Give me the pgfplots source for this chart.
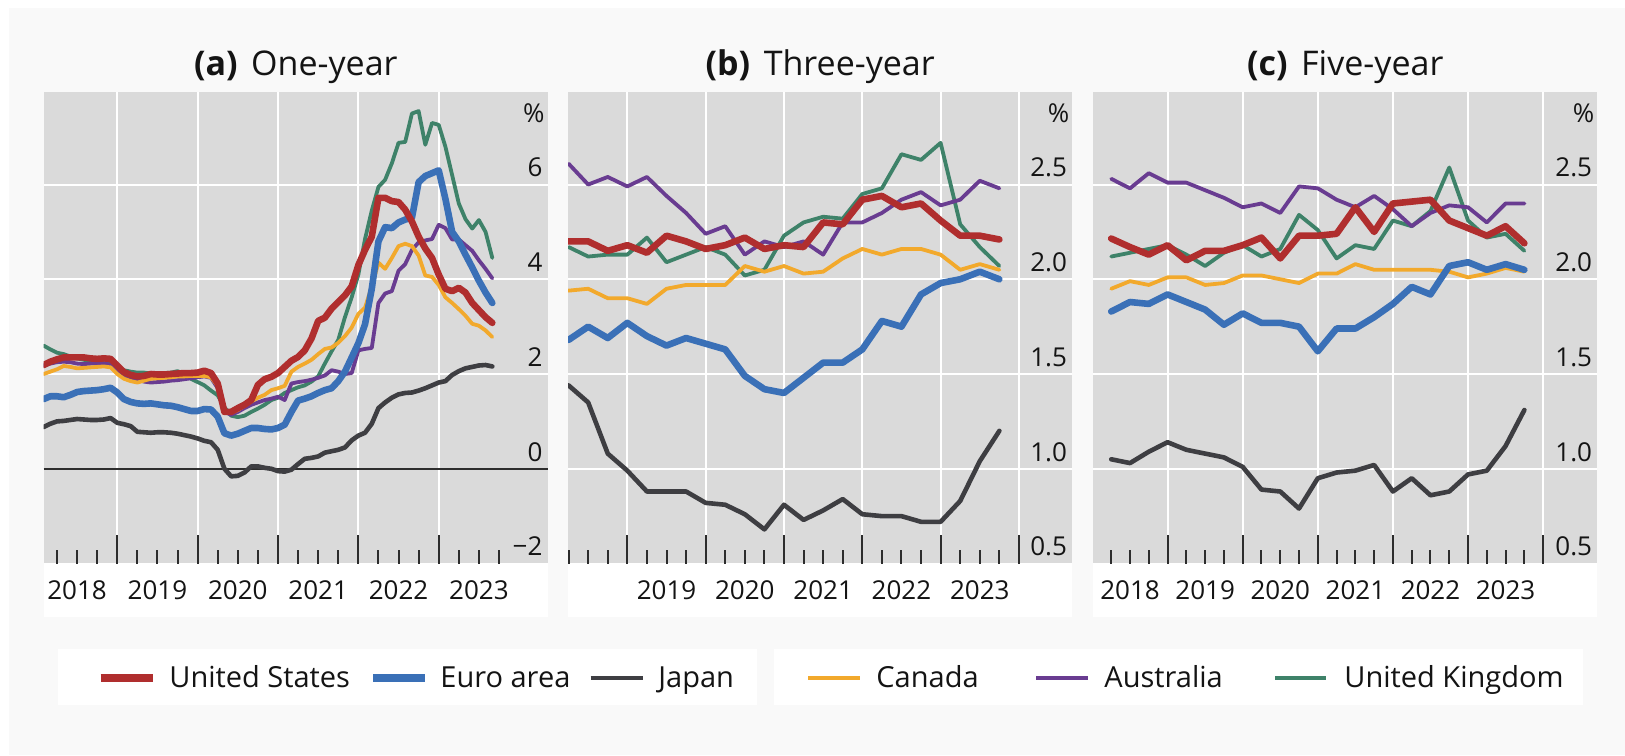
\documentclass[border=0pt]{standalone}
\usepackage{fontspec}
\setmainfont{Open Sans}
\usepackage{pgfplots}
\usepackage{pgfplotstable}
\pgfplotsset{compat=1.18}

\definecolor{usred}{RGB}{176,46,46}
\definecolor{eublue}{RGB}{58,112,183}
\definecolor{jpgray}{RGB}{62,62,66}
\definecolor{caorange}{RGB}{242,169,44}
\definecolor{aupurple}{RGB}{105,60,145}
\definecolor{ukgreen}{RGB}{62,130,105}
\definecolor{plotbg}{RGB}{218,218,218}
\definecolor{figbg}{RGB}{249,249,249}
\definecolor{tickc}{RGB}{45,45,45}
\definecolor{txtc}{RGB}{20,20,20}

% One-year (monthly)
\pgfplotstableread{
t us eu jp ca au uk
2018.083 2.19 1.47 0.88 2.00 2.18 2.60
2018.167 2.26 1.53 0.95 2.05 2.22 2.52
2018.250 2.31 1.53 1.00 2.10 2.25 2.45
2018.333 2.35 1.51 1.01 2.17 2.26 2.42
2018.417 2.35 1.56 1.03 2.15 2.25 2.37
2018.500 2.35 1.62 1.05 2.12 2.22 2.33
2018.583 2.35 1.64 1.04 2.13 2.21 2.30
2018.667 2.33 1.65 1.03 2.14 2.22 2.27
2018.750 2.32 1.66 1.03 2.15 2.22 2.25
2018.833 2.33 1.68 1.04 2.16 2.22 2.23
2018.917 2.32 1.71 1.07 2.14 2.20 2.21
2019.000 2.18 1.61 0.97 2.00 2.05 2.13
2019.083 2.04 1.47 0.94 1.90 1.95 2.08
2019.167 1.98 1.41 0.90 1.85 1.93 2.05
2019.250 1.95 1.38 0.78 1.82 1.88 2.03
2019.333 1.96 1.37 0.77 1.86 1.84 2.03
2019.417 2.00 1.38 0.76 1.90 1.82 2.01
2019.500 1.99 1.36 0.77 1.91 1.83 2.01
2019.583 1.99 1.34 0.77 1.92 1.84 2.02
2019.667 2.00 1.33 0.76 1.93 1.86 2.03
2019.750 2.01 1.30 0.74 1.95 1.87 2.06
2019.833 2.02 1.26 0.71 1.95 1.89 2.00
2019.917 2.02 1.22 0.68 1.96 1.91 1.90
2020.000 2.03 1.22 0.64 1.96 1.93 1.83
2020.083 2.07 1.26 0.59 1.96 1.95 1.76
2020.167 2.02 1.25 0.56 1.93 1.92 1.65
2020.250 1.80 1.10 0.40 1.75 1.70 1.55
2020.333 1.20 0.75 0.00 1.22 1.20 1.30
2020.417 1.20 0.70 -0.16 1.18 1.14 1.12
2020.500 1.28 0.74 -0.15 1.24 1.20 1.09
2020.583 1.35 0.80 -0.08 1.33 1.28 1.12
2020.667 1.45 0.86 0.05 1.42 1.35 1.20
2020.750 1.77 0.86 0.05 1.50 1.40 1.27
2020.833 1.89 0.84 0.02 1.56 1.45 1.35
2020.917 1.94 0.83 0.00 1.66 1.48 1.45
2021.000 2.02 0.86 -0.05 1.70 1.52 1.50
2021.083 2.15 0.93 -0.06 1.75 1.45 1.60
2021.167 2.28 1.20 -0.02 2.05 1.80 1.66
2021.250 2.36 1.44 0.10 2.15 1.83 1.72
2021.333 2.50 1.48 0.21 2.22 1.85 1.76
2021.417 2.75 1.53 0.23 2.30 1.88 1.84
2021.500 3.12 1.60 0.26 2.42 1.92 1.95
2021.583 3.19 1.66 0.34 2.53 1.97 2.22
2021.667 3.38 1.70 0.37 2.56 2.08 2.48
2021.750 3.52 1.85 0.40 2.66 2.05 2.72
2021.833 3.66 2.05 0.45 2.80 2.00 3.20
2021.917 3.85 2.35 0.60 2.98 2.02 3.62
2022.000 4.30 2.65 0.70 3.27 2.50 4.10
2022.083 4.62 3.05 0.76 3.40 2.53 4.85
2022.167 4.90 3.80 0.95 3.85 2.55 5.45
2022.250 5.72 4.80 1.28 4.35 3.50 5.95
2022.333 5.72 5.10 1.40 4.22 3.70 6.10
2022.417 5.65 5.08 1.50 4.45 3.75 6.45
2022.500 5.63 5.20 1.57 4.70 4.18 6.88
2022.583 5.47 5.26 1.60 4.75 4.32 6.90
2022.667 5.22 5.30 1.61 4.70 4.62 7.50
2022.750 4.90 6.05 1.65 4.50 4.78 7.55
2022.833 4.65 6.18 1.70 4.08 4.82 6.84
2022.917 4.45 6.24 1.76 4.05 4.85 7.30
2023.000 4.10 6.30 1.82 3.88 5.15 7.26
2023.083 3.80 5.70 1.85 3.62 5.08 6.80
2023.167 3.75 5.00 1.98 3.50 4.84 6.20
2023.250 3.82 4.80 2.06 3.37 4.84 5.60
2023.333 3.72 4.52 2.12 3.23 4.72 5.27
2023.417 3.50 4.25 2.15 3.06 4.60 5.07
2023.500 3.35 3.97 2.18 3.02 4.40 5.25
2023.583 3.20 3.72 2.19 2.92 4.22 5.00
2023.667 3.08 3.50 2.16 2.78 4.02 4.45
}\tabA

% Three-year (quarterly)
\pgfplotstableread{
t us eu jp ca au uk
2018.25 2.20 1.68 1.44 1.94 2.61 2.17
2018.50 2.20 1.75 1.35 1.95 2.50 2.12
2018.75 2.15 1.69 1.08 1.90 2.54 2.13
2019.00 2.18 1.77 0.99 1.90 2.49 2.13
2019.25 2.14 1.70 0.88 1.87 2.54 2.22
2019.50 2.23 1.65 0.88 1.95 2.44 2.09
2019.75 2.20 1.69 0.88 1.97 2.35 2.13
2020.00 2.16 1.66 0.82 1.97 2.24 2.17
2020.25 2.18 1.63 0.81 1.97 2.28 2.13
2020.50 2.22 1.49 0.76 2.07 2.13 2.02
2020.75 2.16 1.42 0.68 2.04 2.20 2.05
2021.00 2.18 1.40 0.81 2.07 2.17 2.23
2021.25 2.17 1.48 0.73 2.03 2.20 2.30
2021.50 2.30 1.56 0.78 2.04 2.13 2.33
2021.75 2.29 1.56 0.84 2.11 2.30 2.32
2022.00 2.42 1.63 0.76 2.16 2.30 2.45
2022.25 2.44 1.78 0.75 2.13 2.35 2.48
2022.50 2.38 1.75 0.75 2.16 2.42 2.66
2022.75 2.40 1.92 0.72 2.16 2.46 2.63
2023.00 2.31 1.98 0.72 2.13 2.39 2.72
2023.25 2.23 2.00 0.83 2.05 2.42 2.29
2023.50 2.23 2.04 1.04 2.08 2.52 2.17
2023.75 2.21 2.00 1.20 2.05 2.48 2.07
}\tabB

% Five-year (quarterly)
\pgfplotstableread{
t us eu jp ca au uk
2018.25 2.215 1.83 1.05 1.95 2.53 2.12
2018.50 2.17 1.88 1.03 1.99 2.48 2.14
2018.75 2.13 1.87 1.09 1.97 2.56 2.16
2019.00 2.18 1.92 1.14 2.01 2.51 2.18
2019.25 2.10 1.88 1.10 2.01 2.51 2.13
2019.50 2.15 1.84 1.08 1.97 2.47 2.07
2019.75 2.15 1.76 1.06 1.98 2.43 2.14
2020.00 2.18 1.82 1.01 2.02 2.38 2.18
2020.25 2.22 1.77 0.89 2.02 2.40 2.12
2020.50 2.11 1.77 0.88 2.00 2.35 2.16
2020.75 2.23 1.75 0.79 1.98 2.49 2.34
2021.00 2.23 1.62 0.95 2.03 2.48 2.26
2021.25 2.24 1.74 0.98 2.03 2.42 2.11
2021.50 2.38 1.74 0.99 2.08 2.38 2.18
2021.75 2.25 1.80 1.02 2.05 2.44 2.16
2022.00 2.40 1.87 0.88 2.05 2.37 2.31
2022.25 2.41 1.96 0.95 2.05 2.28 2.28
2022.50 2.42 1.92 0.86 2.05 2.35 2.36
2022.75 2.31 2.07 0.88 2.04 2.39 2.59
2023.00 2.27 2.09 0.97 2.01 2.38 2.31
2023.25 2.23 2.05 0.99 2.03 2.30 2.22
2023.50 2.28 2.08 1.12 2.06 2.40 2.24
2023.75 2.19 2.05 1.31 2.04 2.40 2.15
}\tabC

\pgfplotsset{
  panel/.style={
    scale only axis,
    width=252pt, height=235.9pt,
    anchor=south west,
    axis background/.style={fill=plotbg},
    axis line style={draw=none},
    enlargelimits=false,
    xmajorgrids, ymajorgrids,
    major grid style={white, line width=1pt},
    tick align=inside,
    xtick pos=left,
    ytick pos=right,
    yticklabel pos=right,
    xtick style={draw=tickc, line width=1pt},
    ytick style={draw=none},
    major tick length=14.5pt,
    minor tick length=7pt,
    xticklabels={,,,,,,},
    minor xtick={0.25,0.5,0.75,1.25,1.5,1.75,2.25,2.5,2.75,3.25,3.5,3.75,4.25,4.5,4.75,5.25,5.5,5.75},
    yticklabel style={anchor=east, inner sep=0pt, xshift=-2.4pt, yshift=8.5pt,
      font=\fontsize{13}{13}\selectfont, text=txtc},
    extra x tick style={major tick length=0pt, grid=none,
      xticklabel style={anchor=center, inner sep=0pt, yshift=-13.25pt,
        font=\fontsize{13}{13}\selectfont, text=txtc}},
    every axis plot/.append style={line join=round, line cap=round},
  },
  thinl/.style={line width=1.9pt},
  jpl/.style={line width=2.3pt},
  thickl/.style={line width=3.3pt},
}

\begin{document}
\begin{tikzpicture}
\path[use as bounding box] (0pt,0pt) rectangle (812.5pt,377.5pt);
\fill[white] (0pt,0pt) rectangle (812.5pt,377.5pt);
\fill[figbg] (4.5pt,0pt) rectangle (812.5pt,373.5pt);
% white strips under the plots
\fill[white] (21.8pt,69.2pt) rectangle (273.8pt,95.75pt);
\fill[white] (284.1pt,69.2pt) rectangle (536.1pt,95.75pt);
\fill[white] (546.6pt,69.2pt) rectangle (798.6pt,95.75pt);

% titles
\node[anchor=base, inner sep=0pt, font=\fontsize{17}{20}\selectfont, text=txtc] at (147.9pt,339.5pt) {\textbf{(a)}\hspace{0.4em}One-year};
\node[anchor=base, inner sep=0pt, font=\fontsize{17}{20}\selectfont, text=txtc] at (410.1pt,339.5pt) {\textbf{(b)}\hspace{0.4em}Three-year};
\node[anchor=base, inner sep=0pt, font=\fontsize{17}{20}\selectfont, text=txtc] at (672.6pt,339.5pt) {\textbf{(c)}\hspace{0.4em}Five-year};

% (a) One-year  (x = years since 2018)
\begin{axis}[panel, at={(21.8pt,95.75pt)},
  xmin=0.083, xmax=6.355, ymin=-2, ymax=7.96,
  xtick={1,2,3,4,5},
  extra x ticks={0.5,1.5,2.5,3.5,4.5,5.5},
  extra x tick labels={2018,2019,2020,2021,2022,2023},
  ytick={-2,0,2,4,6}, yticklabels={−2,0,2,4,6},
  extra y ticks={0}, extra y tick labels={},
  extra y tick style={ymajorgrids, major grid style={draw=tickc, line width=1.2pt}},
]
\addplot[ukgreen, thinl] table[x expr=\thisrow{t}-2018, y=uk] {\tabA};
\addplot[aupurple, thinl] table[x expr=\thisrow{t}-2018, y=au] {\tabA};
\addplot[caorange, thinl] table[x expr=\thisrow{t}-2018, y=ca] {\tabA};
\addplot[jpgray, jpl] table[x expr=\thisrow{t}-2018, y=jp] {\tabA};
\addplot[eublue, thickl] table[x expr=\thisrow{t}-2018, y=eu] {\tabA};
\addplot[usred, thickl] table[x expr=\thisrow{t}-2018, y=us] {\tabA};
\node[anchor=east, inner sep=0pt, xshift=-1.3pt, font=\fontsize{13}{13}\selectfont, text=txtc] at (rel axis cs:1,0.954) {\%};
\end{axis}

% (b) Three-year
\begin{axis}[panel, at={(284.1pt,95.75pt)},
  xmin=0.245, xmax=6.68, ymin=0.5, ymax=2.99,
  xtick={1,2,3,4,5,6},
  extra x ticks={1.5,2.5,3.5,4.5,5.5},
  extra x tick labels={2019,2020,2021,2022,2023},
  ytick={0.5,1,1.5,2,2.5}, yticklabels={0.5,1.0,1.5,2.0,2.5},
]
\addplot[ukgreen, thinl] table[x expr=\thisrow{t}-2018, y=uk] {\tabB};
\addplot[aupurple, thinl] table[x expr=\thisrow{t}-2018, y=au] {\tabB};
\addplot[caorange, thinl] table[x expr=\thisrow{t}-2018, y=ca] {\tabB};
\addplot[jpgray, jpl] table[x expr=\thisrow{t}-2018, y=jp] {\tabB};
\addplot[eublue, thickl] table[x expr=\thisrow{t}-2018, y=eu] {\tabB};
\addplot[usred, thickl] table[x expr=\thisrow{t}-2018, y=us] {\tabB};
\node[anchor=east, inner sep=0pt, xshift=-1.3pt, font=\fontsize{13}{13}\selectfont, text=txtc] at (rel axis cs:1,0.954) {\%};
\end{axis}

% (c) Five-year
\begin{axis}[panel, at={(546.6pt,95.75pt)},
  xmin=0.01, xmax=6.72, ymin=0.5, ymax=2.99,
  xtick={1,2,3,4,5,6},
  extra x ticks={0.5,1.5,2.5,3.5,4.5,5.5},
  extra x tick labels={2018,2019,2020,2021,2022,2023},
  ytick={0.5,1,1.5,2,2.5}, yticklabels={0.5,1.0,1.5,2.0,2.5},
]
\addplot[ukgreen, thinl] table[x expr=\thisrow{t}-2018, y=uk] {\tabC};
\addplot[aupurple, thinl] table[x expr=\thisrow{t}-2018, y=au] {\tabC};
\addplot[caorange, thinl] table[x expr=\thisrow{t}-2018, y=ca] {\tabC};
\addplot[jpgray, jpl] table[x expr=\thisrow{t}-2018, y=jp] {\tabC};
\addplot[eublue, thickl] table[x expr=\thisrow{t}-2018, y=eu] {\tabC};
\addplot[usred, thickl] table[x expr=\thisrow{t}-2018, y=us] {\tabC};
\node[anchor=east, inner sep=0pt, xshift=-1.3pt, font=\fontsize{13}{13}\selectfont, text=txtc] at (rel axis cs:1,0.954) {\%};
\end{axis}

% legend
\fill[white] (29pt,24.85pt) rectangle (378.25pt,52.85pt);
\fill[white] (387pt,24.85pt) rectangle (791.5pt,52.85pt);
\begin{scope}[every node/.style={anchor=base west, inner sep=0pt, font=\fontsize{14.5}{16}\selectfont, text=txtc}]
\draw[usred, line width=3.8pt] (50.25pt,38.4pt) -- (76.7pt,38.4pt);
\node at (84.5pt,33.85pt) {United States};
\draw[eublue, line width=3.8pt] (186.5pt,38.4pt) -- (212.5pt,38.4pt);
\node at (220pt,33.85pt) {Euro area};
\draw[jpgray, line width=2.2pt] (295.35pt,38.4pt) -- (321.25pt,38.4pt);
\node at (329pt,33.85pt) {Japan};
\draw[caorange, line width=2.2pt] (404pt,38.4pt) -- (430pt,38.4pt);
\node at (438pt,33.85pt) {Canada};
\draw[aupurple, line width=2.2pt] (518pt,38.4pt) -- (544pt,38.4pt);
\node at (552pt,33.85pt) {Australia};
\draw[ukgreen, line width=2.2pt] (637.5pt,38.4pt) -- (663pt,38.4pt);
\node at (672pt,33.85pt) {United Kingdom};
\end{scope}
\end{tikzpicture}
\end{document}
